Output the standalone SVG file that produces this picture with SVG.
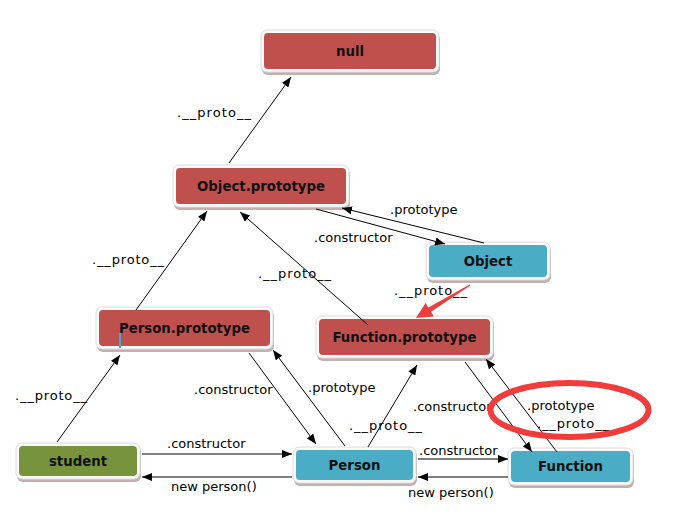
<svg xmlns="http://www.w3.org/2000/svg" width="679" height="515" viewBox="0 0 679 515">
<defs>
<marker id="arr" markerUnits="userSpaceOnUse" markerWidth="10" markerHeight="8" refX="10" refY="4" orient="auto"><path d="M0,0 L10,4 L0,8 z" fill="#000"/></marker>
</defs>
<style>
.shadow{fill:#7a5050;opacity:0.45}
.outer{fill:#fbfbfb;stroke:#dcdcdc;stroke-width:1}
.red{fill:#C0504D}
.blue{fill:#4BACC6}
.green{fill:#77933C}
.nt{font-family:"DejaVu Sans",Verdana,sans-serif;font-weight:bold;font-size:13.3px;fill:#111;text-anchor:middle}
.lb{font-family:"DejaVu Sans",Verdana,sans-serif;font-size:13px;fill:#000}
.c line{stroke:#000;stroke-width:1;marker-end:url(#arr)}
</style>
<rect width="679" height="515" fill="#fff"/>

<g id="node-null">
<rect class="shadow" x="262" y="33" width="178" height="42" rx="6"/>
<rect class="outer" x="261" y="30" width="178" height="42" rx="6"/>
<rect class="red" x="264" y="33" width="172" height="36" rx="4"/>
<text class="nt" x="350" y="55.5">null</text>
</g>
<g id="node-object-prototype">
<rect class="shadow" x="174" y="168" width="176" height="42" rx="6"/>
<rect class="outer" x="173" y="165" width="176" height="42" rx="6"/>
<rect class="red" x="176" y="168" width="170" height="36" rx="4"/>
<text class="nt" x="261" y="190.5">Object.prototype</text>
</g>
<g id="node-object">
<rect class="shadow" x="427" y="245" width="124" height="38" rx="6"/>
<rect class="outer" x="426" y="242" width="124" height="38" rx="6"/>
<rect class="blue" x="429" y="245" width="118" height="32" rx="4"/>
<text class="nt" x="488" y="265.5">Object</text>
</g>
<g id="node-function-prototype">
<rect class="shadow" x="317" y="319" width="177" height="42" rx="6"/>
<rect class="outer" x="316" y="316" width="177" height="42" rx="6"/>
<rect class="red" x="319" y="319" width="171" height="36" rx="4"/>
<text class="nt" x="404.5" y="341.5">Function.prototype</text>
</g>
<g id="node-person-prototype">
<rect class="shadow" x="97" y="310" width="177" height="42" rx="6"/>
<rect class="outer" x="96" y="307" width="177" height="42" rx="6"/>
<rect class="red" x="99" y="310" width="171" height="36" rx="4"/>
<text class="nt" x="184.5" y="332.5">Person.prototype</text>
<line x1="120" y1="333" x2="120" y2="348" stroke="#4BACC6" stroke-width="2"/>
</g>
<g id="node-student">
<rect class="shadow" x="17" y="446" width="124" height="36" rx="6"/>
<rect class="outer" x="16" y="443" width="124" height="36" rx="6"/>
<rect class="green" x="19" y="446" width="118" height="30" rx="4"/>
<text class="nt" x="78" y="465.5">student</text>
</g>
<g id="node-person">
<rect class="shadow" x="294" y="450" width="123" height="36" rx="6"/>
<rect class="outer" x="293" y="447" width="123" height="36" rx="6"/>
<rect class="blue" x="296" y="450" width="117" height="30" rx="4"/>
<text class="nt" x="354.5" y="469.5">Person</text>
</g>
<g id="node-function">
<rect class="shadow" x="509" y="451" width="125" height="37" rx="6"/>
<rect class="outer" x="508" y="448" width="125" height="37" rx="6"/>
<rect class="blue" x="511" y="451" width="119" height="31" rx="4"/>
<text class="nt" x="570.5" y="471">Function</text>
</g>

<g id="connectors" class="c">
<line x1="229" y1="163" x2="291" y2="77"/>
<line x1="316" y1="209" x2="445" y2="244"/>
<line x1="484" y1="243" x2="342" y2="208"/>
<line x1="368" y1="325" x2="240" y2="212"/>
<line x1="136" y1="310" x2="207" y2="211"/>
<line x1="57" y1="442" x2="120" y2="355"/>
<line x1="249" y1="353" x2="316" y2="444"/>
<line x1="345" y1="446" x2="273" y2="350"/>
<line x1="142" y1="454" x2="292" y2="454"/>
<line x1="292" y1="477" x2="142" y2="477"/>
<line x1="368" y1="447" x2="417" y2="365"/>
<line x1="418" y1="459" x2="508" y2="459"/>
<line x1="508" y1="477" x2="418" y2="477"/>
<line x1="465" y1="362" x2="532" y2="452"/>
<line x1="557" y1="452" x2="486" y2="359"/>
<polygon points="416,318 433.8,316.5 431,311.8 470.4,285.6 469.6,284.4 428.4,307.6 425.6,302.9" fill="#F03E3E"/>
</g>

<g id="labels" class="lb">
<text x="177" y="117" textLength="74">.__proto__</text>
<text x="390" y="214">.prototype</text>
<text x="314" y="242">.constructor</text>
<text x="258" y="278" textLength="73">.__proto__</text>
<text x="394" y="295" textLength="73">.__proto__</text>
<text x="92" y="264" textLength="72">.__proto__</text>
<text x="15" y="400" textLength="72">.__proto__</text>
<text x="194" y="394">.constructor</text>
<text x="308" y="392">.prototype</text>
<text x="167" y="448">.constructor</text>
<text x="171" y="491">new person()</text>
<text x="413" y="411">.constructor</text>
<text x="349" y="430" textLength="73">.__proto__</text>
<text x="419" y="455">.constructor</text>
<text x="408" y="497">new person()</text>
<text x="527" y="410">.prototype</text>
<text x="537" y="428" textLength="72">.__proto__</text>
</g>

<ellipse cx="569.5" cy="410" rx="79" ry="27" fill="none" stroke="#F23B3B" stroke-width="6"/>
</svg>
